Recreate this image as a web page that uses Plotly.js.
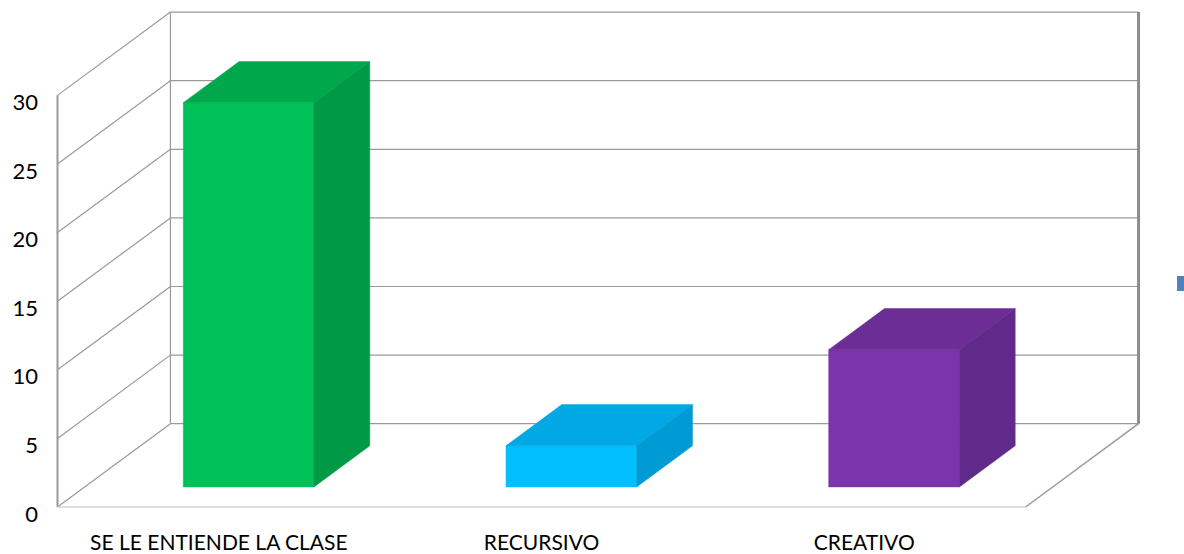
<!DOCTYPE html>
<html>
<head>
<meta charset="utf-8">
<script src="https://cdn.plot.ly/plotly-3.0.1.min.js"></script>
<style>
  html, body { margin: 0; padding: 0; background: #ffffff; }
  #chart { width: 1184px; height: 554px; }
</style>
</head>
<body>
<div id="chart"></div>
<script>
// ---- data ----
const categories = ['SE LE ENTIENDE LA CLASE', 'RECURSIVO', 'CREATIVO'];
const values = [28, 3, 10];
const yTicks = [0, 5, 10, 15, 20, 25, 30];

// ---- styles ----
const frontColors = ['#00C158', '#00BFFF', '#7A35AC'];
const topColors   = ['#00A84C', '#00A8E4', '#6C2D97'];
const sideColors  = ['#009A46', '#009BD4', '#5F2A8A'];
const legendColor = '#4F81BD';
const gridColor = '#9a9a9a';
const FONT = 'Lato, "Open Sans", "Noto Sans", sans-serif';

// ---- oblique projection of the 3D box (depth z in 0..1) ----
const DX = 0.35;   // horizontal shift of full depth, in category units
const DY = 6.07;   // vertical shift of full depth, in value units
const Z0 = 0.241, Z1 = 0.735;   // bar front / back depth
const BW = 0.405, BC = 0.508;   // bar width and center within category
const YMAX = yTicks[yTicks.length - 1];
const NC = categories.length;
function P(x, v, z) { return [x + z * DX, v + z * DY]; }

const traces = [];
function lineTrace(segs, color, width) {
  const xs = [], ys = [];
  segs.forEach(s => { s.forEach(p => { xs.push(p[0]); ys.push(p[1]); }); xs.push(null); ys.push(null); });
  traces.push({ type: 'scatter', mode: 'lines', x: xs, y: ys, line: { color: color, width: width },
    hoverinfo: 'skip', showlegend: false });
}
function polyTrace(pts, color) {
  traces.push({ type: 'scatter', mode: 'lines', fill: 'toself', fillcolor: color,
    x: pts.map(p => p[0]).concat([pts[0][0]]), y: pts.map(p => p[1]).concat([pts[0][1]]),
    line: { color: color, width: 0.5 }, hoverinfo: 'skip', showlegend: false });
}

// walls: back-wall gridlines and side-wall diagonals
const gridSegs = [], sideSegs = [];
yTicks.forEach(v => {
  gridSegs.push([P(0, v, 1), P(NC, v, 1)]);
  sideSegs.push([P(0, v, 0), P(0, v, 1)]);
});
lineTrace(gridSegs, gridColor, 1.2);
lineTrace(sideSegs, gridColor, 1.2);
lineTrace([[P(0, 0, 1), P(0, YMAX, 1)]], gridColor, 1.2);
lineTrace([[P(NC, 0, 1), P(NC, YMAX, 1)]], '#8c8c8c', 3);
lineTrace([[P(0, 0, 0), P(0, YMAX, 0)]], '#9a9a9a', 2);
lineTrace([[P(0, 0, 0), P(NC, 0, 0)]], '#d2d2d2', 1.5);
lineTrace([[P(NC, 0, 0), P(NC, 0, 1)]], '#9a9a9a', 1.5);

// bars
values.forEach((v, i) => {
  const xl = i + BC - BW / 2, xr = i + BC + BW / 2;
  polyTrace([P(xl, 0, Z0), P(xr, 0, Z0), P(xr, v, Z0), P(xl, v, Z0)], frontColors[i]);
  polyTrace([P(xl, v, Z0), P(xr, v, Z0), P(xr, v, Z1), P(xl, v, Z1)], topColors[i]);
  polyTrace([P(xr, 0, Z0), P(xr, 0, Z1), P(xr, v, Z1), P(xr, v, Z0)], sideColors[i]);
});

const layout = {
  width: 1184, height: 554,
  margin: { l: 51, r: 39, t: 7, b: 41 },
  paper_bgcolor: '#ffffff', plot_bgcolor: '#ffffff',
  font: { family: FONT, size: 21, color: '#000000' },
  showlegend: false,
  // legend key of the series (its text lies beyond the right edge in the original)
  shapes: [{ type: 'rect', xref: 'paper', yref: 'paper', x0: 1.0293, x1: 1.0375, y0: 0.4387, y1: 0.4684,
    fillcolor: legendColor, line: { width: 0 } }],
  xaxis: {
    range: [-0.0201, 3.370], showgrid: false, zeroline: false, showline: false,
    tickvals: categories.map((c, i) => i + 0.5), ticktext: categories,
    ticks: '', ticklabelstandoff: 15, fixedrange: true,
    tickfont: { family: FONT, size: 21, color: '#000' }
  },
  yaxis: {
    range: [-0.437, 36.44], showgrid: false, zeroline: false, showline: false,
    tickvals: yTicks, ticktext: yTicks.map(String),
    ticks: '', ticklabelstandoff: 12, ticklabelshift: 7, fixedrange: true,
    tickfont: { family: FONT, size: 22, color: '#000' }
  }
};

Plotly.newPlot('chart', traces, layout, { displayModeBar: false, staticPlot: true });
</script>
</body>
</html>
